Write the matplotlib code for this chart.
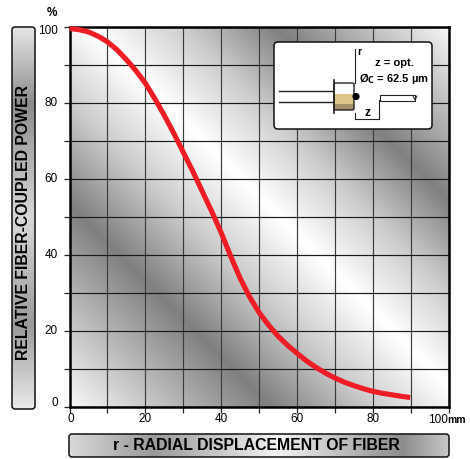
import numpy as np
import matplotlib
matplotlib.use("Agg")
import matplotlib.pyplot as plt
from matplotlib.patches import FancyBboxPatch, Rectangle, Circle

plt.rcParams['font.family'] = ['Liberation Sans', 'DejaVu Sans']

# curve
displacement = [0, 2.5, 5, 7.5, 10, 12.5, 15, 17.5, 20, 22.5, 25, 27.5, 30, 32.5, 35, 37.5, 40, 42.5, 45,
                47.5, 50, 52.5, 55, 57.5, 60, 62.5, 65, 67.5, 70, 72.5, 75, 77.5, 80, 82.5, 85, 87.5, 89.8]
power = [99.6, 99.3, 98.7, 97.6, 96.1, 94, 91.4, 88.5, 85.2, 81.1, 76.7, 72, 67, 62, 56.7, 51.4, 45.8, 39.6, 33.8,
         28.9, 24.8, 21.5, 18.6, 16.2, 14.1, 12.1, 10.4, 8.9, 7.6, 6.5, 5.6, 4.8, 4.1, 3.6, 3.2, 2.8, 2.5]

x_ticks = list(range(0, 101, 10))
y_ticks = list(range(0, 101, 10))
x_labels = {0: "0", 20: "20", 40: "40", 60: "60", 80: "80"}
y_labels = {20: "20", 40: "40", 60: "60", 80: "80"}

W, H = 470, 459
fig = plt.figure(figsize=(W / 100, H / 100), dpi=100)

# pixel helper so the layout can be read straight from the reference
def rect(x0, y0, x1, y1):
    return [x0 / W, 1 - y1 / H, (x1 - x0) / W, (y1 - y0) / H]

ax = fig.add_axes(rect(69.5, 27, 449, 407))

# diagonal metal sheen behind the grid
g_x, g_y = np.meshgrid(np.linspace(0, 100, 400), np.linspace(100, 0, 400))
sheen = np.interp(g_x - (100 - g_y),
                  [-100, -47, -20, 5, 30, 54, 100],
                  [0.97, 0.5, 0.8, 1.0, 0.8, 0.5, 0.97])
ax.imshow(sheen, extent=(0, 100, 0, 100), aspect='auto', cmap='gray', vmin=0, vmax=1, zorder=0)

ax.set_xlim(0, 100)
ax.set_ylim(0, 100)
ax.set_xticks(x_ticks)
ax.set_yticks(y_ticks)
ax.set_xticklabels([])
ax.set_yticklabels([])
ax.tick_params(length=4, width=0.9, color='#222222')
ax.grid(True, axis='x', color='#3c3c3c', lw=0.85, zorder=1)
ax.grid(True, axis='y', color='#1a1a1a', lw=0.85, zorder=1)
ax.set_axisbelow(True)
for s in ax.spines.values():
    s.set_linewidth(1.8)
    s.set_color('black')

ax.plot(displacement, power, color='#ee1c25', lw=3.7, solid_capstyle='butt', zorder=3, clip_on=False)

for v, lab in x_labels.items():
    ax.annotate(lab, (v, 0), xytext=(1 if v == 0 else 0, -12), textcoords='offset pixels',
                ha='center', va='center', fontsize=8.5)
for v, lab in y_labels.items():
    ax.annotate(lab, (0, v), xytext=(-12, 0), textcoords='offset pixels',
                ha='right', va='center', fontsize=8.5)

# overlay in image pixels for panels, labels and the small sketch
ov = fig.add_axes([0, 0, 1, 1], zorder=5)
ov.set_xlim(0, W)
ov.set_ylim(H, 0)
ov.axis('off')
ov.patch.set_alpha(0)

ov.text(52, 13, "%", ha='center', va='center', fontsize=8.5, fontweight='bold')
ov.text(58, 31, "100", ha='right', va='center', fontsize=8.5)
ov.text(58, 403, "0", ha='right', va='center', fontsize=8.5)
ov.text(438, 420, "100", ha='center', va='center', fontsize=8.5)
ov.text(457, 420, "mm", ha='center', va='center', fontsize=7.5, fontweight='bold')

def panel(x0, y0, x1, y1, pos, shade, vertical):
    s = np.interp(np.linspace(0, 1, 300), pos, shade)
    img = s[:, None] if vertical else s[None, :]
    im = ov.imshow(img, extent=(x0, x1, y1, y0), aspect='auto', cmap='gray', vmin=0, vmax=1, zorder=1)
    box = FancyBboxPatch((x0 + 2, y0 + 2), x1 - x0 - 4, y1 - y0 - 4, boxstyle="round,pad=2,rounding_size=3",
                         fc='none', ec='#111111', lw=1.1, zorder=2)
    ov.add_patch(box)
    im.set_clip_path(box)

panel(12, 27, 35, 409, [0, 0.2, 0.5, 0.78, 1], [0.9, 0.55, 0.85, 0.6, 0.92], True)
panel(69, 434, 449, 457, [0, 0.22, 0.55, 0.88, 1], [0.85, 0.6, 0.95, 0.55, 0.78], False)
ov.set_xlim(0, W)
ov.set_ylim(H, 0)

ov.text(23.5, 223, "RELATIVE FIBER-COUPLED POWER", rotation=90, ha='center', va='center',
        fontsize=11.4, fontweight='bold', zorder=3)
ov.text(256, 445.5, "r - RADIAL DISPLACEMENT OF FIBER", ha='center', va='center',
        fontsize=11.4, fontweight='bold', zorder=3)

# sketch of fibre and source
ov.add_patch(FancyBboxPatch((276, 44), 154, 83, boxstyle="round,pad=2,rounding_size=4",
                            fc='white', ec='#111111', lw=1.1, zorder=3))
ov.plot([279, 332], [91, 91], color='#222222', lw=1, zorder=4)
ov.plot([279, 332], [102, 102], color='#222222', lw=1, zorder=4)
ov.add_patch(Rectangle((334, 94), 20, 10, fc='#dfc48c', ec='none', zorder=4))
ov.add_patch(Rectangle((334, 104), 20, 6, fc='#a58f68', ec='none', zorder=4))
ov.add_patch(FancyBboxPatch((334, 83), 20, 27, boxstyle="round,pad=0,rounding_size=1.5",
                            fc='none', ec='#222222', lw=1, zorder=5))
ov.plot([333.5, 333.5], [80, 113], color='#222222', lw=1.2, zorder=5)
ov.add_patch(Circle((356, 96.5), 3.6, fc='black', ec='none', zorder=5))
ov.plot([355, 355], [49, 83], color='#222222', lw=0.8, zorder=4)
ov.plot([355, 355], [113, 119], color='#222222', lw=0.8, zorder=4)
ov.plot([379, 379], [100, 119], color='#222222', lw=0.8, zorder=4)
ov.plot([355, 379], [118.5, 118.5], color='#222222', lw=0.8, zorder=4)
ov.add_patch(Rectangle((379.5, 94.5), 35, 6, fc='white', ec='#222222', lw=0.8, zorder=5))
ov.plot([413, 415, 417], [96, 100, 96], color='#222222', lw=0.7, zorder=6)
ov.text(359, 52, "r", ha='center', va='center', fontsize=7.5, fontweight='bold', zorder=6)
ov.text(367, 113, "z", ha='center', va='center', fontsize=8.5, fontweight='bold', zorder=6)
ov.text(394, 63, "z = opt.", ha='center', va='center', fontsize=8, fontweight='bold', zorder=6)
ov.text(394, 79, r"Ø$_{\mathbf{C}}$ = 62.5 µm", ha='center', va='center', fontsize=8, fontweight='bold', zorder=6)

fig.savefig("out.png", dpi=100)
